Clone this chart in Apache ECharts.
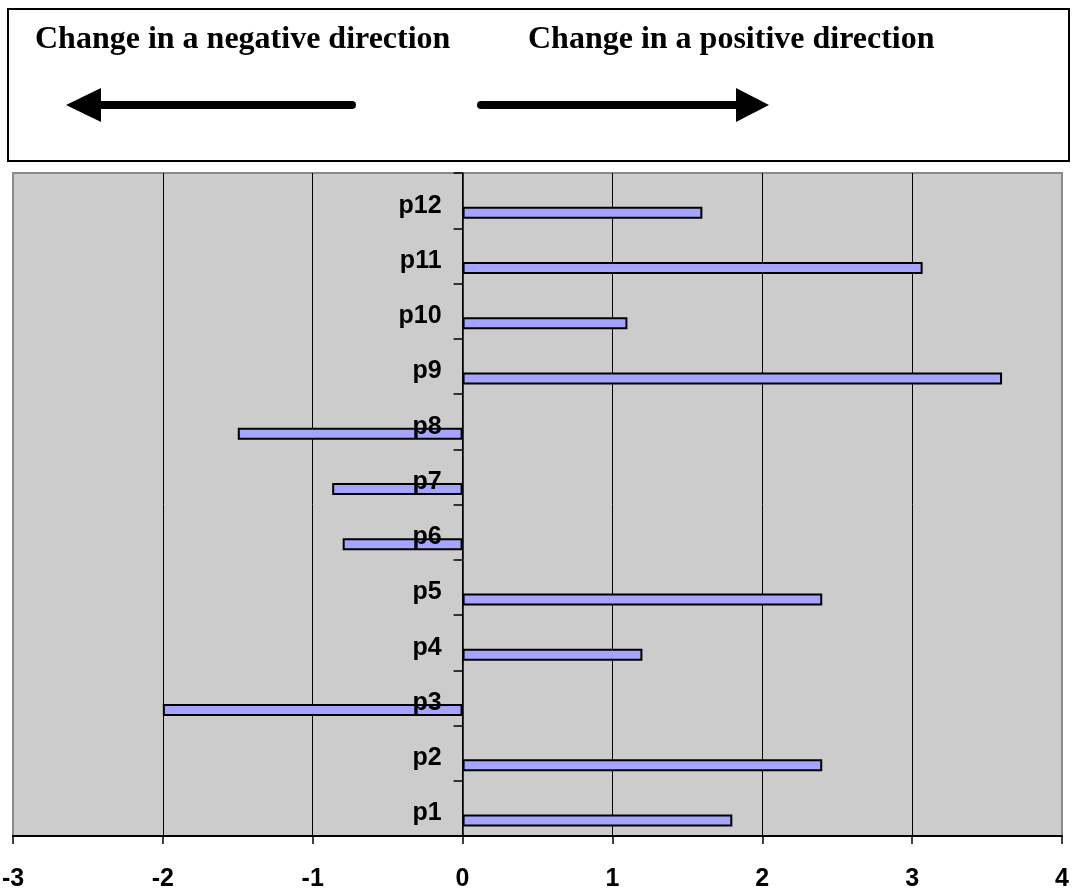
<!DOCTYPE html>
<html>
<head>
<meta charset="utf-8">
<script src="https://cdn.jsdelivr.net/npm/echarts@6/dist/echarts.min.js"></script>
<style>
  html, body { margin: 0; padding: 0; background: #ffffff; }
  #chart { width: 1075px; height: 893px; }
</style>
</head>
<body>
<div id="chart"></div>
<script>
// Items shown on the category axis, bottom to top
const categories = ['p1', 'p2', 'p3', 'p4', 'p5', 'p6', 'p7', 'p8', 'p9', 'p10', 'p11', 'p12'];
// Change for each item
const changeValues = [1.8, 2.4, -2.0, 1.2, 2.4, -0.8, -0.87, -1.5, 3.6, 1.1, 3.07, 1.6];
// Value axis range and step
const valueMin = -3;
const valueMax = 4;
const valueStep = 1;
// Header captions
const negativeCaption = 'Change in a negative direction';
const positiveCaption = 'Change in a positive direction';

const chart = echarts.init(document.getElementById('chart'), null, { renderer: 'canvas' });

const labelFont = 'Liberation Sans, Arial, Helvetica, sans-serif';
const headerFont = 'bold 32px "Liberation Serif", "Times New Roman", serif';

const gridLeft = 13, gridRight = 13, gridTop = 173, gridBottom = 57;
const plotWidth = 1075 - gridLeft - gridRight;
// Category axis sits on the zero of the value axis, labels included
const zeroShift = plotWidth * (0 - valueMin) / (valueMax - valueMin);

// Arrow heads in the header box
function arrowPolygon(tipX, baseX, midY, half) {
  return [[tipX, midY], [baseX, midY - half], [baseX, midY + half]];
}

const barStyle = { barWidth: 12, barGap: '0%' };

const option = {
  backgroundColor: '#ffffff',
  animation: false,
  grid: {
    left: gridLeft,
    right: gridRight,
    top: gridTop,
    bottom: gridBottom,
    show: true,
    backgroundColor: '#cccccc',
    borderColor: '#8a8a8a',
    borderWidth: 2,
    containLabel: false,
    outerBoundsMode: 'none'
  },
  xAxis: {
    type: 'value',
    min: valueMin,
    max: valueMax,
    interval: valueStep,
    axisLine: { show: true, onZero: false, lineStyle: { color: '#000', width: 2 } },
    axisTick: { show: true, length: 8, lineStyle: { color: '#000', width: 1.5 } },
    axisLabel: {
      color: '#000',
      fontFamily: labelFont,
      fontWeight: 'bold',
      fontSize: 25,
      margin: 31
    },
    splitLine: {
      show: true,
      showMinLine: false,
      showMaxLine: false,
      lineStyle: { color: '#000', width: 1 }
    }
  },
  yAxis: {
    type: 'category',
    data: categories,
    position: 'left',
    offset: -zeroShift,
    zlevel: 1,
    axisLine: { show: true, onZero: false, lineStyle: { color: '#000', width: 1.5 } },
    axisTick: { show: true, length: 9, interval: 0, lineStyle: { color: '#000', width: 1.5 } },
    axisLabel: {
      margin: 21,
      interval: 0,
      formatter: function (v) { return '{t|' + v + '}'; },
      rich: {
        t: {
          color: '#000',
          fontFamily: labelFont,
          fontWeight: 'bold',
          fontSize: 25,
          padding: [10, 0, 0, 0]
        }
      }
    },
    splitLine: { show: false }
  },
  series: [
    Object.assign({ name: 'slotA', type: 'bar', data: [] }, barStyle),
    Object.assign({ name: 'slotB', type: 'bar', data: [] }, barStyle),
    Object.assign({
      name: 'change',
      type: 'bar',
      data: changeValues,
      itemStyle: { color: '#a5a5ff', borderColor: '#000', borderWidth: 2 },
      z: 3
    }, barStyle)
  ],
  graphic: {
    elements: [
      {
        type: 'rect',
        shape: { x: 8, y: 9, width: 1061, height: 152 },
        style: { fill: '#ffffff', stroke: '#000', lineWidth: 2 }
      },
      {
        type: 'text',
        style: {
          x: 35, y: 40, text: negativeCaption, font: headerFont,
          fill: '#000', textAlign: 'left', textVerticalAlign: 'middle'
        }
      },
      {
        type: 'text',
        style: {
          x: 528, y: 40, text: positiveCaption, font: headerFont,
          fill: '#000', textAlign: 'left', textVerticalAlign: 'middle'
        }
      },
      {
        type: 'line',
        shape: { x1: 99, y1: 105, x2: 352, y2: 105 },
        style: { stroke: '#000', lineWidth: 8, lineCap: 'round' }
      },
      {
        type: 'polygon',
        shape: { points: arrowPolygon(66, 101, 105, 17) },
        style: { fill: '#000' }
      },
      {
        type: 'line',
        shape: { x1: 481, y1: 105, x2: 738, y2: 105 },
        style: { stroke: '#000', lineWidth: 8, lineCap: 'round' }
      },
      {
        type: 'polygon',
        shape: { points: arrowPolygon(769, 736, 105, 17) },
        style: { fill: '#000' }
      }
    ]
  }
};

chart.setOption(option);
</script>
</body>
</html>
